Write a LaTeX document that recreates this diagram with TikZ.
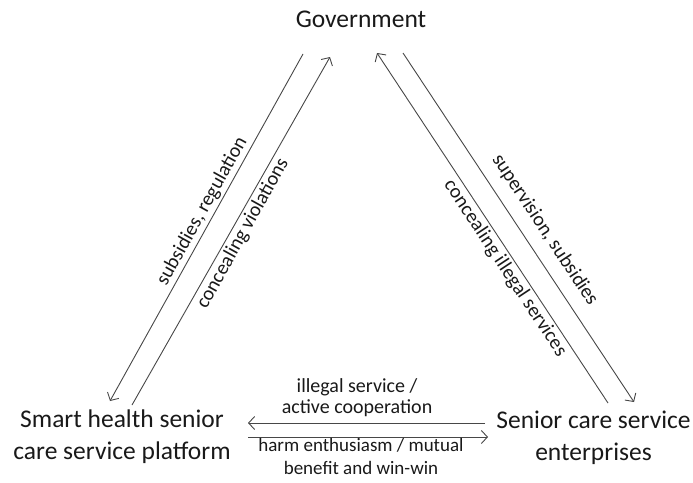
\documentclass[tikz,border=0pt]{standalone}
\usepackage{fontspec}
\setmainfont{Carlito}
\usetikzlibrary{arrows.meta}
\begin{document}
\begin{tikzpicture}[x=1pt,y=-1pt,
  conn/.style={draw=black!72, line width=0.9pt, -{Straight Barb[length=6pt,width=13pt]}},
  big/.style={font=\fontsize{25.5}{32}\selectfont, text=black!90, align=center, inner sep=0pt},
  lbl/.style={font=\fontsize{20}{21}\selectfont, text=black!90, align=center, inner sep=0pt},
  slbl/.style={font=\fontsize{20}{21}\selectfont, text=black!90, inner sep=2.5pt},
  lblb/.style={font=\fontsize{19}{23}\selectfont, text=black!90, align=center, inner sep=0pt},
]
\useasboundingbox (0,0) rectangle (693,482);
% main nodes
\node[big] (gov) at (361,19) {Government};
\node[big] (plat) at (122,437) {Smart health senior\\care service platform};
\node[big] (ent) at (593.5,438) {Senior care service\\enterprises};
% connector end points
\coordinate (L1a) at (303,54);  \coordinate (L1b) at (110,401);
\coordinate (L2a) at (132,405); \coordinate (L2b) at (330,57);
\coordinate (R1a) at (608,403); \coordinate (R1b) at (377,53);
\coordinate (R2a) at (403,53);  \coordinate (R2b) at (634,402);
\coordinate (H1a) at (485,423); \coordinate (H1b) at (248,423);
\coordinate (H2a) at (248,437); \coordinate (H2b) at (488,437);
% connectors with their labels
\draw[conn] (L1a) -- node[slbl, pos=0.47, anchor=south, rotate=60.9] (l1) {subsidies, regulation} (L1b);
\draw[conn] (L2a) -- node[slbl, pos=0.509, anchor=north, rotate=60.9] (l2) {concealing violations} (L2b);
\draw[conn] (R1a) -- node[slbl, pos=0.403, anchor=north, rotate=-56.5] (r1) {concealing illegal services} (R1b);
\draw[conn] (R2a) -- (R2b);
\node[slbl, rotate=-56.5] (r2) at (545,230) {supervision, subsidies};
\draw[conn] (H1a) -- (H1b);
\draw[conn] (H2a) -- (H2b);
\node[lbl] (h1) at (357,397.5) {illegal service /\\active cooperation};
\node[lblb] (h2) at (361,456.5) {harm enthusiasm / mutual\\benefit and win-win};
\end{tikzpicture}
\end{document}
